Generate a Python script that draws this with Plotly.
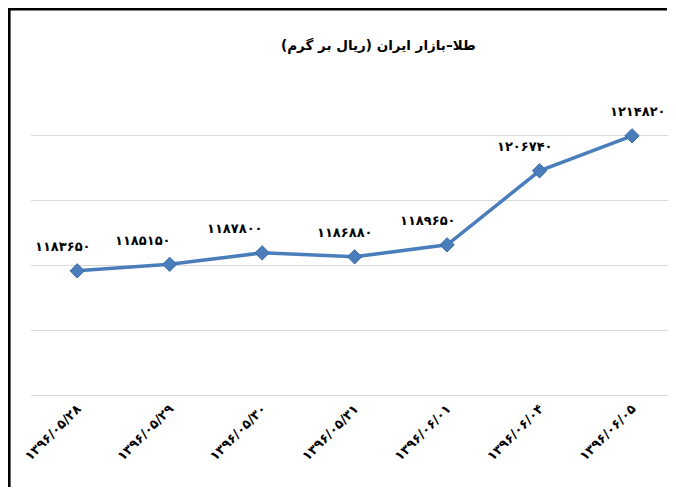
import plotly.graph_objects as go

categories = ["۱۳۹۶/۰۵/۲۸", "۱۳۹۶/۰۵/۲۹", "۱۳۹۶/۰۵/۳۰", "۱۳۹۶/۰۵/۳۱",
              "۱۳۹۶/۰۶/۰۱", "۱۳۹۶/۰۶/۰۴", "۱۳۹۶/۰۶/۰۵"]
prices = [1183650, 1185150, 1187800, 1186880, 1189650, 1206740, 1214820]
title_text = "طلا–بازار ایران (ریال بر گرم)"

# styling-only offsets for data labels (pixels)
label_xshift = [-14, -27, -27, -10, -19, -15, 6]

# page body has an 8px margin; figure coordinates = reference - 8
W, H = 660, 479
ML, MR, MT, MB = 23, 0, 62, 92
PW, PH = W - ML - MR, H - MT - MB

def fa_digits(n):
    return str(n).translate(str.maketrans("0123456789", "۰۱۲۳۴۵۶۷۸۹"))

def px_x(px):
    return (px - ML) / PW

def px_y(py):
    return (H - MB - py) / PH

FONT = "DejaVu Sans"
BLUE = "#4A7EBB"

fig = go.Figure()
fig.add_trace(go.Scatter(
    x=list(range(len(categories))), y=prices, mode="lines+markers",
    line=dict(color=BLUE, width=3.5),
    marker=dict(symbol="diamond", size=11, color=BLUE,
                line=dict(color="#3A6AA5", width=1)),
    hoverinfo="skip", showlegend=False,
))

annotations = []
for i, v in enumerate(prices):
    annotations.append(dict(
        x=i, y=v, xref="x", yref="y", text="<b>" + fa_digits(v) + "</b>",
        showarrow=False, xshift=label_xshift[i], yshift=24,
        font=dict(family=FONT, size=13, color="black"),
        xanchor="center", yanchor="middle",
    ))
annotations.append(dict(
    x=px_x(370), y=px_y(37), xref="paper", yref="paper",
    text="<b>" + title_text + "</b>", showarrow=False,
    font=dict(family=FONT, size=13.5, color="black"),
    xanchor="center", yanchor="middle",
))

# outer frame (left and top edges) drawn as a path
frame = dict(type="path", xref="paper", yref="paper",
             path="M {x0},{y0} L {x0},{y1} L {x2},{y1}".format(
                 x0=px_x(1.3), y0=px_y(H), y1=px_y(1.3), x2=px_x(W - 1)),
             line=dict(color="black", width=2.6))

fig.update_layout(
    width=W, height=H,
    margin=dict(l=ML, r=MR, t=MT, b=MB, pad=0),
    paper_bgcolor="white", plot_bgcolor="white",
    annotations=annotations, shapes=[frame],
    xaxis=dict(
        range=[-0.5, 6.389], tickmode="array",
        tickvals=list(range(len(categories))),
        ticktext=["<b>" + c + "</b>" for c in categories],
        tickangle=-45, tickfont=dict(family=FONT, size=13, color="black"),
        showgrid=False, zeroline=False, showline=True,
        linecolor="#D9D9D9", linewidth=1, ticks="", ticklen=0,
    ),
    yaxis=dict(
        range=[1155000, 1230000], dtick=15000, tick0=1155000,
        showticklabels=False, showgrid=True, gridcolor="#D9D9D9",
        gridwidth=1, zeroline=False, showline=False, ticks="",
    ),
)

fig.write_html("out.html")
